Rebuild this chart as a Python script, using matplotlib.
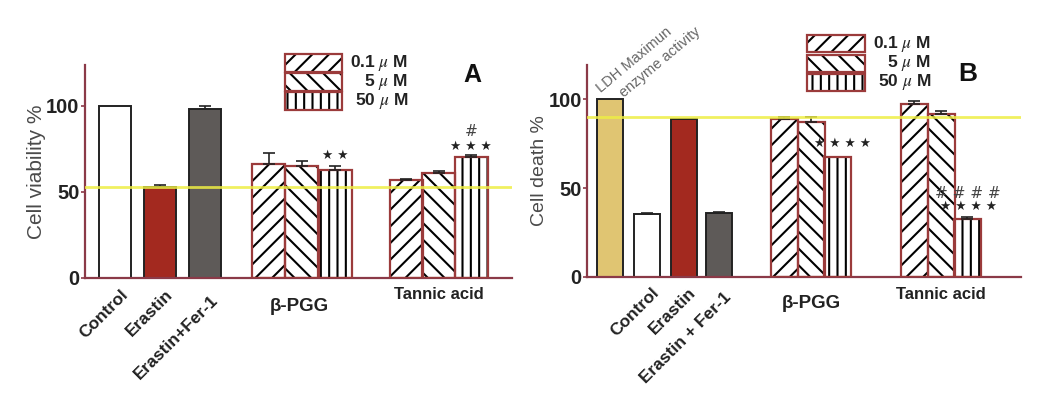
import numpy as np
import matplotlib
matplotlib.use("Agg")
import matplotlib.pyplot as plt
from matplotlib import font_manager
from matplotlib.patches import Rectangle

# available fonts
names = {f.name for f in font_manager.fontManager.ttflist}
NARROW = 'Liberation Sans Narrow' if 'Liberation Sans Narrow' in names else 'Liberation Sans'
plt.rcParams['font.family'] = ['Liberation Sans', 'DejaVu Sans']
plt.rcParams['mathtext.fontset'] = 'stix'
plt.rcParams['hatch.linewidth'] = 1.5

# ---- data: panel A (cell viability) ----
ctrl_labels_a = ['Control', 'Erastin', 'Erastin+Fer-1']
viab_ctrl = [100, 52.7, 98.0]
viab_ctrl_err = [0, 1.0, 1.5]
dose_labels = ['0.1', '5', '50']
viab_pgg = [65.9, 64.9, 62.6]
viab_pgg_err = [6.4, 3.1, 2.4]
viab_ta = [56.6, 60.7, 70.4]
viab_ta_err = [0.6, 1.5, 0.8]
viab_ref = 52.7

# ---- data: panel B (cell death, LDH) ----
ctrl_labels_b = ['Control', 'Erastin', 'Erastin + Fer-1']
death_ctrl = [100, 35.5, 88.9, 36.1]     # LDH max, control, erastin, erastin+fer-1
death_ctrl_err = [0, 0.3, 0, 0.4]
death_pgg = [88.8, 87.3, 67.3]
death_pgg_err = [1.5, 2.5, 0]
death_ta = [97.4, 91.9, 32.4]
death_ta_err = [1.5, 1.5, 1.2]
death_ref = 89.9

# styles
AXC = '#8B3A48'
EDGE = '#9B3B3B'
TXT = '#222222'
hatches = ['//', '\\\\', '||']
W, H = 1048, 399

fig = plt.figure(figsize=(W / 100, H / 100), dpi=100)


def add_axes(l, r, b, t):
    return fig.add_axes([l / W, 1 - b / H, (r - l) / W, (b - t) / H])


def style_axes(ax, xmax, ymax):
    ax.set_xlim(0, xmax)
    ax.set_ylim(0, ymax)
    for s in ['top', 'right']:
        ax.spines[s].set_visible(False)
    for s in ['left', 'bottom']:
        ax.spines[s].set_color(AXC)
        ax.spines[s].set_linewidth(1.6)
    ax.set_xticks([])
    ax.set_yticks([0, 50, 100])
    ax.tick_params(axis='y', length=3, width=1.2, color=AXC, pad=1)
    for lab in ax.get_yticklabels():
        lab.set_fontfamily(NARROW)
        lab.set_fontweight('bold')
        lab.set_fontsize(14.5)
        lab.set_color(TXT)


def hatched_bars(ax, xs, vals, errs, width):
    for x, v, e, h in zip(xs, vals, errs, hatches):
        ax.bar(x, v, width, color='white', edgecolor='black', linewidth=0,
               hatch=h, zorder=2)
        ax.bar(x, v, width, fill=False, edgecolor=EDGE, linewidth=1.6, zorder=3)
        if e > 0:
            ax.errorbar(x, v, yerr=[[0], [e]], fmt='none', ecolor=TXT,
                        elinewidth=1.2, capsize=4, capthick=1.2, zorder=4)


def legend_boxes(x0, y0, bw, bh, gap, xtext):
    for i, (d, h) in enumerate(zip(dose_labels, hatches)):
        y = y0 + i * (bh + gap)
        r = Rectangle((x0 / W, 1 - (y + bh) / H), bw / W, bh / H,
                      transform=fig.transFigure, facecolor='white',
                      edgecolor='black', linewidth=0, hatch=h)
        fig.add_artist(r)
        r2 = Rectangle((x0 / W, 1 - (y + bh) / H), bw / W, bh / H,
                       transform=fig.transFigure, fill=False,
                       edgecolor=EDGE, linewidth=1.6)
        fig.add_artist(r2)
        fig.text(xtext / W, 1 - (y + bh / 2) / H, d + r' $\mu$ M',
                 ha='right', va='center', fontsize=12.5, fontweight='bold',
                 family=NARROW, color=TXT)


def stars(ax, x, y, n, size=9):
    ax.text(x, y, ' '.join(['★'] * n), ha='center', va='bottom',
            fontsize=size, family='DejaVu Sans', color=TXT, zorder=6)


def hashes(ax, x, y, n):
    ax.text(x, y, ' '.join(['#'] * n), ha='center', va='bottom',
            fontsize=11, style='italic', family='DejaVu Sans',
            color='#444444', zorder=6)


# ================= Panel A =================
axA = add_axes(85, 512, 277.7, 65)
style_axes(axA, 427, 123.6)

xs_ctrl_a = [30, 75, 120]
axA.bar(xs_ctrl_a, viab_ctrl, 32, color=['white', '#A3291F', '#5E5A58'],
        edgecolor=TXT, linewidth=1.4, zorder=2)
axA.errorbar(xs_ctrl_a[1:], viab_ctrl[1:], yerr=[[0, 0], viab_ctrl_err[1:]],
             fmt='none', ecolor=TXT, elinewidth=1.2, capsize=4,
             capthick=1.2, zorder=4)
xs_pgg_a = [183.5, 216.5, 250]
xs_ta_a = [321, 353.5, 386]
hatched_bars(axA, xs_pgg_a, viab_pgg, viab_pgg_err, 33)
hatched_bars(axA, xs_ta_a, viab_ta, viab_ta_err, 33)
axA.axhline(viab_ref, color='#EEEE44', linewidth=2, alpha=0.85, zorder=5)

stars(axA, xs_pgg_a[2], viab_pgg[2] + viab_pgg_err[2] + 2.0, 2)
stars(axA, xs_ta_a[2], viab_ta[2] + viab_ta_err[2] + 1.5, 3)
hashes(axA, xs_ta_a[2], viab_ta[2] + 10, 1)

for x, lab, dy in zip(xs_ctrl_a, ctrl_labels_a, [-5.4, -5.4, -8.5]):
    axA.text(x + 5, dy, lab, rotation=45, rotation_mode='anchor',
             ha='right', va='top', fontsize=12.5, fontweight='bold',
             family=NARROW, color=TXT)
axA.text(np.mean(xs_pgg_a) - 2, -17, 'β-PGG', ha='center', va='center',
         fontsize=13.5, fontweight='bold', color=TXT,
         family=['Liberation Sans', 'DejaVu Sans'])
axA.text(np.mean(xs_ta_a), -10, 'Tannic acid', ha='center', va='center',
         fontsize=12, fontweight='bold', family=NARROW, color=TXT)
axA.set_ylabel('Cell viability %', fontsize=15, color='#4a4a4a', labelpad=0)
fig.text(472 / W, 1 - 75 / H, 'A', ha='center', va='center', fontsize=18,
         fontweight='bold', color='#111111')
legend_boxes(285, 54, 57, 18, 1, 408)

# ================= Panel B =================
axB = add_axes(587.3, 1020.7, 276.7, 65)
style_axes(axB, 433.4, 119.4)

xs_ctrl_b = [23, 60, 97, 132]
axB.bar(xs_ctrl_b, death_ctrl, 26,
        color=['#E0C572', 'white', '#A3291F', '#5E5A58'],
        edgecolor=TXT, linewidth=1.4, zorder=2)
axB.errorbar(xs_ctrl_b[1:], death_ctrl[1:],
             yerr=[[0, 0, 0], death_ctrl_err[1:]], fmt='none',
             ecolor=TXT, elinewidth=1.2, capsize=4, capthick=1.2,
             zorder=4)
xs_pgg_b = [197, 224, 250.5]
xs_ta_b = [327, 354, 380]
hatched_bars(axB, xs_pgg_b, death_pgg, death_pgg_err, 27)
hatched_bars(axB, xs_ta_b, death_ta, death_ta_err, 27)
axB.axhline(death_ref, color='#EEEE44', linewidth=2, alpha=0.85, zorder=5)

stars(axB, xs_pgg_b[2] + 5, death_pgg[2] + 4.0, 4)
stars(axB, xs_ta_b[2] + 1, death_ta[2] + 3.5, 4)
hashes(axB, xs_ta_b[2] + 1, death_ta[2] + 10.5, 4)

for x, lab, dy in zip(xs_ctrl_b[1:], ctrl_labels_b, [-4.7, -4.7, -7.5]):
    axB.text(x + 4, dy, lab, rotation=45, rotation_mode='anchor',
             ha='right', va='top', fontsize=12.5, fontweight='bold',
             family=NARROW, color=TXT)
axB.text(np.mean(xs_pgg_b), -15, 'β-PGG', ha='center', va='center',
         fontsize=13.5, fontweight='bold', color=TXT,
         family=['Liberation Sans', 'DejaVu Sans'])
axB.text(np.mean(xs_ta_b), -10, 'Tannic acid', ha='center', va='center',
         fontsize=12, fontweight='bold', family=NARROW, color=TXT)
axB.set_ylabel('Cell death %', fontsize=14, color='#4a4a4a', labelpad=0)
fig.text(968 / W, 1 - 74 / H, 'B', ha='center', va='center', fontsize=19,
         fontweight='bold', color='#111111')
legend_boxes(807, 35, 58, 17, 2.5, 931)

# LDH label above the first bar
fig.text(601 / W, 1 - 93 / H, 'LDH Maximun', rotation=40,
         rotation_mode='anchor', ha='left', va='baseline', fontsize=10.5,
         color='#666666')
fig.text(624 / W, 1 - 98 / H, 'enzyme activity', rotation=40,
         rotation_mode='anchor', ha='left', va='baseline', fontsize=10.5,
         color='#666666')

fig.savefig('out.png', dpi=100, facecolor='white')
